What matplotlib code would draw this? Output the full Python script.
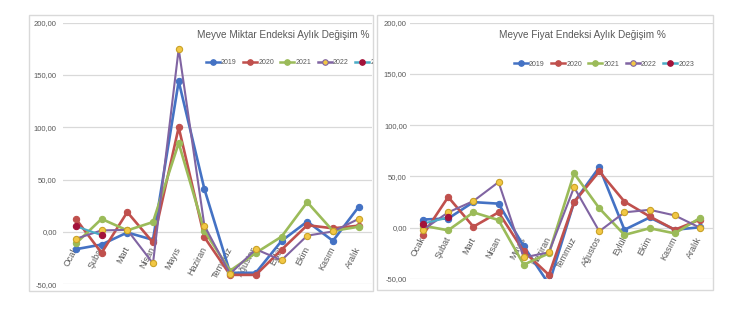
import matplotlib
matplotlib.use("Agg")
import matplotlib.pyplot as plt
from matplotlib.lines import Line2D
from matplotlib.patches import Rectangle

plt.rcParams['font.family'] = ['Liberation Sans Narrow', 'Liberation Sans', 'DejaVu Sans']

months = ["Ocak", "Şubat", "Mart", "Nisan", "Mayıs", "Haziran", "Temmuz",
          "Ağustos", "Eylül", "Ekim", "Kasım", "Aralık"]
years = ["2019", "2020", "2021", "2022", "2023"]

# Quantity index, monthly change (%)
miktar_2019 = [-16.5, -12, -0.5, -7.5, 144, 41, -39, -39, -8.6, 10, -8.5, 24]
miktar_2020 = [12.5, -20, 19, -10, 100, -5, -41, -41, -17, 6.5, 3.5, 6]
miktar_2021 = [-11, 12.5, 1.5, 9.5, 85, 1, -37, -20, -4.5, 28.5, 1, 5]
miktar_2022 = [-6.5, 1.5, 2, -30, 175, 6, -40, -16.5, -27, -3.5, 0.5, 12.5]
miktar_2023 = [5.5, -3]

# Price index, monthly change (%)
fiyat_2019 = [8, 9, 25, 23.5, -18, -55, 25, 59, -2, 10, -2, 0.5]
fiyat_2020 = [-7, 30, 1, 15, -23, -46, 25, 55, 25.5, 11, -2, 8]
fiyat_2021 = [2, -2.5, 15, 7.5, -36, -25, 53, 19, -7, -0.5, -5.5, 9.5]
fiyat_2022 = [-2, 15, 26, 44.5, -29, -24, 39.5, -3.5, 15, 17.5, 12, 0]
fiyat_2023 = [4, 10]

yticks = [-50, 0, 50, 100, 150, 200]
ytick_labels = ["-50,00", "0,00", "50,00", "100,00", "150,00", "200,00"]

line_colors = ["#4472C4", "#C0504D", "#9BBB59", "#8064A2", "#4BACC6"]
marker_faces = ["#4472C4", "#C0504D", "#9BBB59", "#F2C744", "#A3123A"]
marker_edges = ["#4472C4", "#C0504D", "#9BBB59", "#C9A227", "#A3123A"]
gray_text = "#595959"
grid_gray = "#D9D9D9"

W, H = 730, 330
fig = plt.figure(figsize=(W / 100, H / 100), dpi=100)


def px_box(x0, x1, ytop, ybot):
    return [x0 / W, 1 - ybot / H, (x1 - x0) / W, (ybot - ytop) / H]


def frame(x0, x1, ytop, ybot):
    r = Rectangle((x0 / W, 1 - ybot / H), (x1 - x0) / W, (ybot - ytop) / H,
                  transform=fig.transFigure, fill=False, edgecolor=grid_gray,
                  linewidth=1.0, zorder=0)
    fig.patches.append(r)
    return r


def draw_panel(ax, series, title, title_xy, legend_xy, clip_rect, xpad, ypad):
    ax.set_ylim(-50, 200)
    ax.set_xlim(-0.5, len(months) - 0.5)
    ax.set_yticks(yticks)
    ax.set_yticklabels(ytick_labels)
    ax.yaxis.grid(True, color=grid_gray, linewidth=0.9)
    ax.set_axisbelow(True)
    for s in ax.spines.values():
        s.set_visible(False)
    ax.spines['bottom'].set_position(('data', 0))
    ax.set_xticks(range(len(months)))
    ax.set_xticklabels(months)
    ax.tick_params(axis='y', length=0, pad=ypad, labelsize=5.5, labelcolor=gray_text)
    ax.tick_params(axis='x', length=0, pad=xpad, labelsize=6.5, labelcolor=gray_text)
    for lab in ax.get_xticklabels():
        lab.set_rotation(62)
        lab.set_ha('right')
        lab.set_va('center')
        lab.set_rotation_mode('anchor')

    handles = []
    for i, (yr, vals) in enumerate(zip(years, series)):
        xs = list(range(len(vals)))
        ax.plot(xs, vals, color=line_colors[i], linewidth=1.9 if i < 3 else 1.5,
                marker='o', markersize=4.5, markerfacecolor=marker_faces[i],
                markeredgecolor=marker_edges[i], markeredgewidth=0.8,
                zorder=3 + i)
        handles.append(Line2D([], [], color=line_colors[i], linewidth=1.8,
                              marker='o', markersize=4,
                              markerfacecolor=marker_faces[i],
                              markeredgecolor=line_colors[i] if i == 3 else marker_edges[i],
                              markeredgewidth=0.8, label=yr))

    fig.text(title_xy[0] / W, 1 - title_xy[1] / H, title, ha='center', va='center',
             fontsize=7.2, color=gray_text)
    leg = fig.legend(handles=handles, loc='center', ncol=5, frameon=False,
                     bbox_to_anchor=(legend_xy[0] / W, 1 - legend_xy[1] / H),
                     fontsize=5, handlelength=2.0, handletextpad=0.2,
                     columnspacing=0.9, labelcolor=gray_text)
    for art in leg.findobj():
        art.set_clip_path(clip_rect)


left_rect = frame(29, 373, 15, 291)
right_rect = frame(377, 713, 15, 290)

ax1 = fig.add_axes(px_box(63, 371.5, 22.7, 284.3))
ax2 = fig.add_axes(px_box(410.4, 712.6, 22.7, 279))

draw_panel(ax1, [miktar_2019, miktar_2020, miktar_2021, miktar_2022, miktar_2023],
           "Meyve Miktar Endeksi Aylık Değişim %", (283.5, 35), (296, 63),
           left_rect, 11, 4.5)
draw_panel(ax2, [fiyat_2019, fiyat_2020, fiyat_2021, fiyat_2022, fiyat_2023],
           "Meyve Fiyat Endeksi Aylık Değişim %", (582, 35), (604, 64),
           right_rect, 7, 2.5)

fig.savefig("out.png", dpi=100, facecolor="white")
